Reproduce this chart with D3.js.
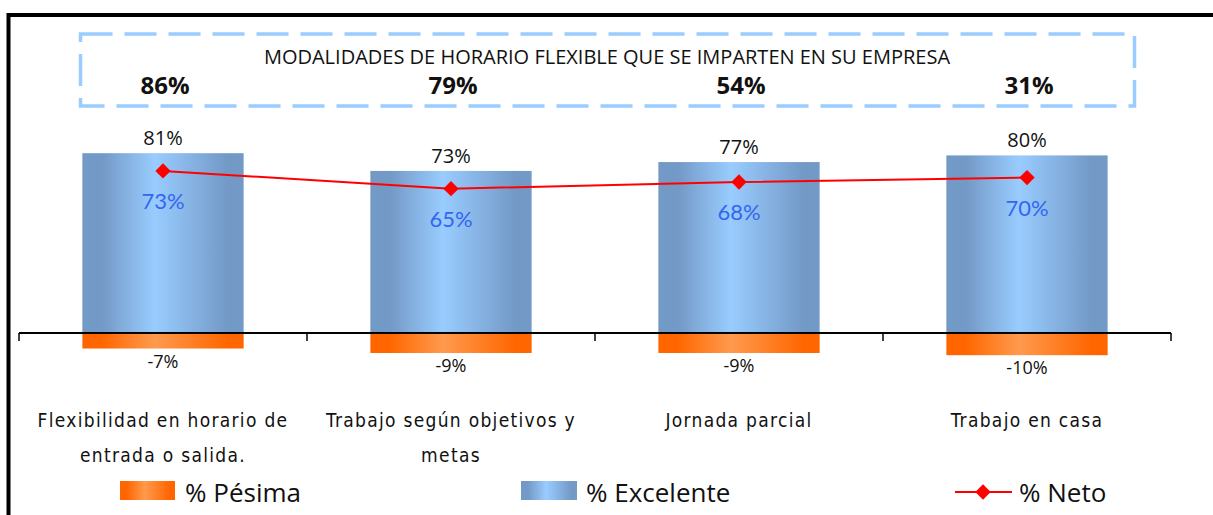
<!DOCTYPE html>
<html>
<head>
    <meta charset="utf-8">
    <title>Modalidades de horario flexible</title>
    <script src="https://d3js.org/d3.v7.min.js"></script>
    <style>
        body {
            margin: 0;
            padding: 0;
            background-color: #fff;
        }
        svg text {
            font-family: 'Open Sans', sans-serif;
            fill: #111;
        }
        .cat-label {
            font-family: 'Liberation Sans Narrow', 'DejaVu Sans Condensed', 'Open Sans', sans-serif;
            font-stretch: condensed;
            letter-spacing: 1.3px;
        }
    </style>
</head>
<body>
    <svg id="chart" width="1213" height="515"></svg>

    <script>
        // datos
        const categories = [
            "Flexibilidad en horario de entrada o salida.",
            "Trabajo según objetivos y metas",
            "Jornada parcial",
            "Trabajo en casa"
        ];
        const imparten = [86, 79, 54, 31];
        const excelente = [81, 73, 77, 80];
        const pesima = [-7, -9, -9, -10];
        const neto = [73, 65, 68, 70];
        const title = "MODALIDADES DE HORARIO FLEXIBLE QUE SE IMPARTEN EN SU EMPRESA";
        const legendLabels = ["% Pésima", "% Excelente", "% Neto"];

        const width = 1213, height = 515;
        const svg = d3.select("#chart");
        const defs = svg.append("defs");

        function addGradient(id, edge, mid) {
            const g = defs.append("linearGradient").attr("id", id)
                .attr("x1", "0%").attr("x2", "100%").attr("y1", "0%").attr("y2", "0%");
            g.append("stop").attr("offset", "0%").attr("stop-color", edge);
            g.append("stop").attr("offset", "12%").attr("stop-color", edge);
            g.append("stop").attr("offset", "45%").attr("stop-color", mid);
            g.append("stop").attr("offset", "90%").attr("stop-color", edge);
            g.append("stop").attr("offset", "100%").attr("stop-color", edge);
        }
        addGradient("gradBlue", "#7399C6", "#99CCFF");
        addGradient("gradOrange", "#FF6600", "#FF9A4D");

        // escalas
        const x = d3.scaleBand()
            .domain(categories)
            .range([19, 1171])
            .paddingInner(0.44)
            .paddingOuter(0.22);
        const xTicks = d3.scaleBand().domain(categories).range([19, 1171]);
        const y = d3.scaleLinear().domain([0, 100]).range([333, 111]);
        const cx = c => x(c) + x.bandwidth() / 2;

        // marco exterior
        svg.append("path")
            .attr("d", `M8.5,${height} L8.5,15 L${width},15`)
            .attr("fill", "none")
            .attr("stroke", "#000")
            .attr("stroke-width", 4);

        // recuadro del titulo
        svg.append("rect")
            .attr("x", 80.5).attr("y", 34)
            .attr("width", 1054).attr("height", 72)
            .attr("fill", "none")
            .attr("stroke", "#99CCFF")
            .attr("stroke-width", 3.5)
            .attr("stroke-dasharray", "32,12");

        svg.append("text")
            .attr("x", 607).attr("y", 64)
            .attr("text-anchor", "middle")
            .style("font-size", "20px")
            .text(title);

        svg.selectAll(".imparten")
            .data(imparten)
            .join("text")
            .attr("class", "imparten")
            .attr("x", (d, i) => cx(categories[i]) + 2)
            .attr("y", 94)
            .attr("text-anchor", "middle")
            .style("font-size", "24px")
            .style("font-weight", "bold")
            .text(d => d + "%");

        // barras
        svg.selectAll(".bar-exc")
            .data(excelente)
            .join("rect")
            .attr("class", "bar-exc")
            .attr("x", (d, i) => x(categories[i]))
            .attr("y", d => y(d))
            .attr("width", x.bandwidth())
            .attr("height", d => y(0) - y(d))
            .attr("fill", "url(#gradBlue)");

        svg.selectAll(".bar-pes")
            .data(pesima)
            .join("rect")
            .attr("class", "bar-pes")
            .attr("x", (d, i) => x(categories[i]))
            .attr("y", y(0))
            .attr("width", x.bandwidth())
            .attr("height", d => y(d) - y(0))
            .attr("fill", "url(#gradOrange)");

        // eje
        svg.append("line")
            .attr("x1", xTicks.range()[0]).attr("x2", xTicks.range()[1])
            .attr("y1", y(0)).attr("y2", y(0))
            .attr("stroke", "#000").attr("stroke-width", 2);
        const tickPos = categories.map(c => xTicks(c)).concat([xTicks.range()[1]]);
        svg.selectAll(".tick")
            .data(tickPos)
            .join("line")
            .attr("class", "tick")
            .attr("x1", d => d).attr("x2", d => d)
            .attr("y1", y(0)).attr("y2", y(0) + 8)
            .attr("stroke", "#000").attr("stroke-width", 1.5);

        // etiquetas de barras
        svg.selectAll(".lbl-exc")
            .data(excelente)
            .join("text")
            .attr("class", "lbl-exc")
            .attr("x", (d, i) => cx(categories[i]))
            .attr("y", d => y(d) - 8)
            .attr("text-anchor", "middle")
            .style("font-size", "20px")
            .text(d => d + "%");

        svg.selectAll(".lbl-pes")
            .data(pesima)
            .join("text")
            .attr("class", "lbl-pes")
            .attr("x", (d, i) => cx(categories[i]))
            .attr("y", d => y(d) + 19)
            .attr("text-anchor", "middle")
            .style("font-size", "18px")
            .text(d => d + "%");

        // linea neto
        const line = d3.line()
            .x((d, i) => cx(categories[i]))
            .y(d => y(d));
        svg.append("path")
            .datum(neto)
            .attr("d", line)
            .attr("fill", "none")
            .attr("stroke", "#FF0000")
            .attr("stroke-width", 2);

        const diamond = d3.symbol().type(d3.symbolDiamond2).size(150);
        svg.selectAll(".pt")
            .data(neto)
            .join("path")
            .attr("class", "pt")
            .attr("d", diamond)
            .attr("transform", (d, i) => `translate(${cx(categories[i])},${y(d)})`)
            .attr("fill", "#FF0000");

        svg.selectAll(".lbl-neto")
            .data(neto)
            .join("text")
            .attr("class", "lbl-neto")
            .attr("x", (d, i) => cx(categories[i]))
            .attr("y", d => y(d) + 38)
            .attr("text-anchor", "middle")
            .style("font-family", "Lato, sans-serif")
            .style("font-size", "22px")
            .style("fill", "#3366F0")
            .text(d => d + "%");

        // categorias (con salto de linea)
        function wrapLines(text, maxWidth, node) {
            const words = text.split(" ");
            const lines = [];
            let cur = "";
            words.forEach(w => {
                const test = cur ? cur + " " + w : w;
                node.text(test);
                if (node.node().getComputedTextLength() > maxWidth && cur) {
                    lines.push(cur);
                    cur = w;
                } else {
                    cur = test;
                }
            });
            lines.push(cur);
            return lines;
        }

        categories.forEach(c => {
            const t = svg.append("text")
                .attr("class", "cat-label")
                .attr("text-anchor", "middle")
                .style("font-size", "19px");
            const lines = wrapLines(c, 268, t);
            t.text(null);
            lines.forEach((l, j) => {
                t.append("tspan")
                    .attr("x", cx(c))
                    .attr("y", 427 + j * 35)
                    .text(l);
            });
        });

        // leyenda
        const legend = svg.append("g");
        legend.append("rect")
            .attr("x", 120).attr("y", 481).attr("width", 55).attr("height", 19)
            .attr("fill", "url(#gradOrange)");
        legend.append("text")
            .attr("x", 185).attr("y", 502)
            .style("font-size", "26px")
            .text(legendLabels[0]);

        legend.append("rect")
            .attr("x", 521).attr("y", 481).attr("width", 56).attr("height", 19)
            .attr("fill", "url(#gradBlue)");
        legend.append("text")
            .attr("x", 586).attr("y", 502)
            .style("font-size", "26px")
            .text(legendLabels[1]);

        legend.append("line")
            .attr("x1", 955).attr("x2", 1012).attr("y1", 492).attr("y2", 492)
            .attr("stroke", "#FF0000").attr("stroke-width", 2);
        legend.append("path")
            .attr("d", diamond)
            .attr("transform", "translate(983,492)")
            .attr("fill", "#FF0000");
        legend.append("text")
            .attr("x", 1019).attr("y", 502)
            .style("font-size", "26px")
            .text(legendLabels[2]);
    </script>
</body>
</html>
